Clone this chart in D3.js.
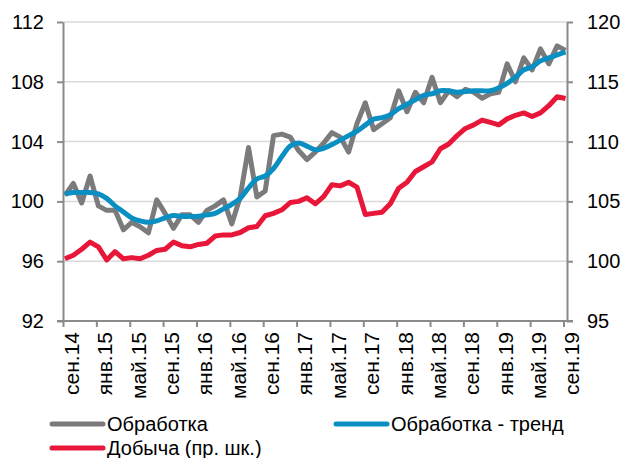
<!DOCTYPE html>
<html>
<head>
<meta charset="utf-8">
<script src="https://cdn.jsdelivr.net/npm/d3@7"></script>
<style>
  body { margin: 0; background: #fff; }
  text { font-family: "Liberation Sans", Arial, sans-serif; fill: #000; }
</style>
</head>
<body>
<div id="container"></div>
<script>
// monthly, сен.14 .. сен.19
const monthNames = ["янв", "фев", "мар", "апр", "май", "июн", "июл", "авг", "сен", "окт", "ноя", "дек"];

const processing = [
  100.4, 101.2, 99.9, 101.7, 99.7, 99.4, 99.4, 98.1, 98.6, 98.3,
  97.9, 100.1, 99.2, 98.2, 99.1, 99.1, 98.6, 99.4, 99.7, 100.1,
  98.5, 100.3, 103.6, 100.3, 100.7, 104.4, 104.5, 104.3, 103.4, 102.8,
  103.3, 103.9, 104.6, 104.3, 103.3, 105.2, 106.6, 104.8, 105.2, 105.6,
  107.4, 106.0, 107.3, 106.6, 108.3, 106.6, 107.4, 107.0, 107.5, 107.3,
  106.9, 107.2, 107.3, 109.2, 108.0, 109.6, 108.8, 110.2, 109.2, 110.4,
  110.1
];

const processingTrend = [
  100.5, 100.6, 100.6, 100.6, 100.5, 100.2, 99.7, 99.3, 98.9, 98.7,
  98.6, 98.7, 98.9, 99.05, 99.0, 99.0, 99.0, 99.1, 99.2, 99.5,
  99.8, 100.2, 100.9, 101.5, 101.7, 102.2, 103.0, 103.7, 103.9, 103.7,
  103.45, 103.55, 103.8, 104.1, 104.4, 104.7, 105.1, 105.5, 105.6, 105.8,
  106.2, 106.5, 106.8, 107.1, 107.2, 107.4, 107.4, 107.3, 107.35, 107.4,
  107.4, 107.4, 107.6, 107.9, 108.3, 108.8, 109.0, 109.4, 109.6, 109.8,
  110.0
];

// right axis
const mining = [
  100.2, 100.5, 101.0, 101.6, 101.2, 100.1, 100.8, 100.2, 100.3, 100.2,
  100.5, 100.9, 101.0, 101.6, 101.3, 101.2, 101.4, 101.5, 102.1, 102.2,
  102.2, 102.4, 102.8, 102.9, 103.8, 104.0, 104.3, 104.9, 105.0, 105.3,
  104.8, 105.4, 106.4, 106.3, 106.6, 106.2, 103.9, 104.0, 104.1, 104.8,
  106.1, 106.6, 107.5, 107.9, 108.3, 109.4, 109.8, 110.5, 111.1, 111.4,
  111.8, 111.6, 111.4, 111.9, 112.2, 112.4, 112.1, 112.4, 113.0, 113.75,
  113.6
];

const leftTicks = [92, 96, 100, 104, 108, 112];
const rightTicks = [95, 100, 105, 110, 115, 120];

const width = 622;
const height = 458;
const plotLeft = 63, plotRight = 567, plotTop = 22, plotBottom = 321;

const colors = { grey: "#7b7b7d", blue: "#0a8fc2", red: "#e8173a" };

const months = processing.map((d, i) => i);
const monthLabel = (i) => {
  const m = (8 + i) % 12;
  const y = 14 + Math.floor((8 + i) / 12);
  return `${monthNames[m]}.${y}`;
};

const svg = d3
  .select("#container")
  .append("svg")
  .attr("width", width)
  .attr("height", height);

const xScale = d3.scaleLinear().domain([0, 60]).range([65, 565.5]);
const yLeft = d3.scaleLinear().domain([92, 112]).range([plotBottom, plotTop]);
const yRight = d3.scaleLinear().domain([95, 120]).range([plotBottom, plotTop]);

// gridlines
svg
  .append("g")
  .selectAll("line")
  .data(leftTicks.slice(1))
  .enter()
  .append("line")
  .attr("x1", plotLeft)
  .attr("x2", plotRight)
  .attr("y1", (d) => yLeft(d))
  .attr("y2", (d) => yLeft(d))
  .attr("stroke", "#d9d9d9")
  .attr("stroke-width", 1.5);

// axes
const axisColor = "#8a8a8a";
const styleAxis = (g) => {
  g.select(".domain").attr("stroke", axisColor).attr("stroke-width", 2);
  g.selectAll(".tick line").attr("stroke", axisColor).attr("stroke-width", 2);
  g.selectAll(".tick text").attr("font-size", "20px").attr("fill", "#000");
};

const xAxis = d3
  .axisBottom(xScale)
  .tickValues(months.filter((i) => i % 4 === 0))
  .tickSize(6)
  .tickSizeOuter(0)
  .tickFormat(monthLabel);

const xg = svg
  .append("g")
  .attr("transform", `translate(0, ${plotBottom})`)
  .call(xAxis)
  .call(styleAxis);
xg.select(".domain").attr("d", `M${plotLeft - 6},0H${plotRight + 6}`);
xg.selectAll(".tick line").attr("transform", "translate(-2,0)");
xg.selectAll(".tick text")
  .attr("font-size", "21px")
  .attr("transform", "rotate(-90)")
  .attr("text-anchor", "end")
  .attr("x", -11)
  .attr("y", 6)
  .attr("dy", "0.35em");

const yAxisLeft = d3.axisLeft(yLeft).tickValues(leftTicks).tickSize(6).tickSizeOuter(0).tickPadding(13);
svg
  .append("g")
  .attr("transform", `translate(${plotLeft}, 0)`)
  .call(yAxisLeft)
  .call(styleAxis);

const yAxisRight = d3.axisRight(yRight).tickValues(rightTicks).tickSize(6).tickSizeOuter(0).tickPadding(14);
svg
  .append("g")
  .attr("transform", `translate(${plotRight}, 0)`)
  .call(yAxisRight)
  .call(styleAxis);

// lines
const lineLeft = d3.line().x((d, i) => xScale(i)).y((d) => yLeft(d));
const lineTrend = d3.line().x((d, i) => xScale(i)).y((d) => yLeft(d)).curve(d3.curveCatmullRom);
const lineRight = d3.line().x((d, i) => xScale(i)).y((d) => yRight(d));

const addPath = (data, gen, color) =>
  svg
    .append("path")
    .datum(data)
    .attr("d", gen)
    .attr("fill", "none")
    .attr("stroke", color)
    .attr("stroke-width", 5)
    .attr("stroke-linejoin", "round");

addPath(processing, lineLeft, colors.grey);
addPath(mining, lineRight, colors.red);
addPath(processingTrend, lineTrend, colors.blue);

// legend
const legendData = [
  { label: "Обработка", color: colors.grey, x: 52, y: 424 },
  { label: "Обработка - тренд", color: colors.blue, x: 336, y: 424 },
  { label: "Добыча (пр. шк.)", color: colors.red, x: 52, y: 448 },
];

const legend = svg.append("g");
legend
  .selectAll("g")
  .data(legendData)
  .enter()
  .append("g")
  .attr("transform", (d) => `translate(${d.x}, ${d.y})`)
  .each(function (d) {
    const g = d3.select(this);
    g.append("line")
      .attr("x1", 0)
      .attr("x2", 51)
      .attr("y1", 0)
      .attr("y2", 0)
      .attr("stroke", d.color)
      .attr("stroke-width", 5)
      .attr("stroke-linecap", "round");
    g.append("text")
      .attr("x", 55)
      .attr("y", 0)
      .attr("dy", "0.35em")
      .attr("font-size", "20px")
      .text(d.label);
  });
</script>
</body>
</html>
